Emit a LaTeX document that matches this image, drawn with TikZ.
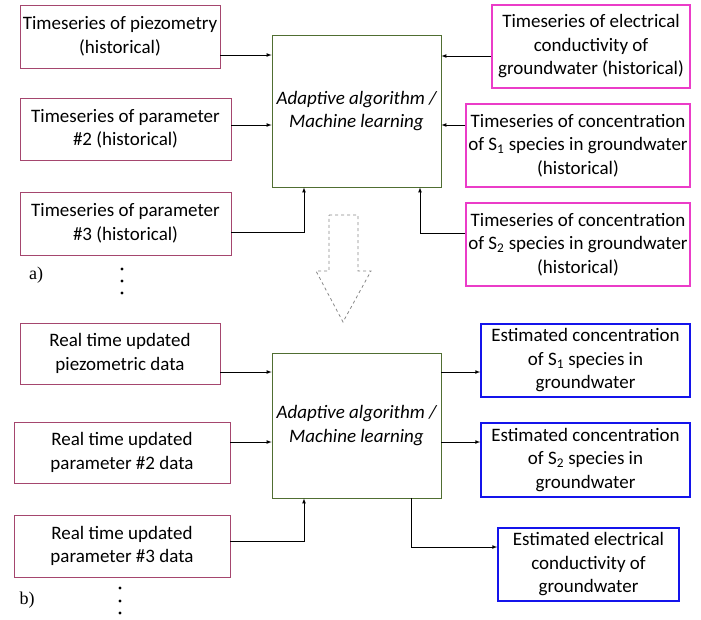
\documentclass[tikz,border=0pt]{standalone}
\usepackage{fontspec}
\setmainfont{Carlito}
\newfontfamily\labelfont{Liberation Serif}
\usetikzlibrary{calc}

\definecolor{inbox}{RGB}{165,70,110}
\definecolor{histbox}{RGB}{235,60,200}
\definecolor{outbox}{RGB}{20,20,235}
\definecolor{algbox}{RGB}{80,110,50}
\definecolor{dashgray}{RGB}{135,135,135}

\tikzset{
  box/.style={draw, inner sep=0pt, align=center, font=\fontsize{19}{23.5}\selectfont},
  param/.style={box, draw=inbox, line width=0.8pt},
  hist/.style={box, draw=histbox, line width=1.6pt},
  estim/.style={box, draw=outbox, line width=1.6pt},
  algo/.style={box, draw=algbox, line width=0.8pt, font=\fontsize{19}{23.5}\selectfont\itshape},
  link/.style={->, >=latex, line width=0.7pt}
}

\begin{document}
\begin{tikzpicture}[x=1pt, y=-1pt]
\useasboundingbox (0,0) rectangle (701,619);

% a) historical training
\node[name=p1, param, minimum width=200pt, minimum height=63pt] at (120,36.5) {Timeseries of piezometry\\(historical)};
\node[name=p2, param, minimum width=211pt, minimum height=62pt] at (125.5,129) {Timeseries of parameter\\\#2 (historical)};
\node[name=p3, param, minimum width=211pt, minimum height=63pt] at (125.5,223.5) {Timeseries of parameter\\\#3 (historical)};

\node[name=algA, algo, minimum width=169pt, minimum height=152pt] at (356.5,111) {Adaptive algorithm /\\Machine learning};

\node[name=h1, hist, minimum width=198pt, minimum height=83pt] at (591,46.5) {Timeseries of electrical\\conductivity of\\groundwater (historical)};
\node[name=h2, hist, minimum width=224pt, minimum height=83pt] at (578,145.5) {Timeseries of concentration\\of S\textsubscript{1} species in groundwater\\(historical)};
\node[name=h3, hist, minimum width=224pt, minimum height=83pt] at (578,244.5) {Timeseries of concentration\\of S\textsubscript{2} species in groundwater\\(historical)};

\node[name=la, font=\fontsize{18}{18}\labelfont] at (36,275) {a)};
\foreach \y in {269,281,293} \fill (122,\y) circle (1.6);

\draw[link] ([yshift=-18.5pt]p1.east) coordinate (t) -- (t -| algA.west);
\draw[link] ([yshift=4pt]p2.east) coordinate (t) -- (t -| algA.west);
\draw[link] ([yshift=-8.5pt]p3.east) -| ([xshift=-52.5pt]algA.south);
\draw[link] ([yshift=-9.5pt]h1.west) coordinate (t) -- (t -| algA.east);
\draw[link] ([yshift=20.5pt]h2.west) coordinate (t) -- (t -| algA.east);
\draw[link] ([yshift=11.5pt]h3.west) -| ([xshift=63.5pt]algA.south);

% transition arrow
\draw[dashgray, dashed, line width=0.8pt] (329,215) -- (358,215) -- (358,271) -- (371,271)
  -- (343,322) -- (316,271) -- (329,271) -- cycle;

% b) real time estimation
\node[name=q1, param, minimum width=200pt, minimum height=61pt] at (120,353.5) {Real time updated\\piezometric data};
\node[name=q2, param, minimum width=216pt, minimum height=61pt] at (122,452.5) {Real time updated\\parameter \#2 data};
\node[name=q3, param, minimum width=216pt, minimum height=62pt] at (122,546) {Real time updated\\parameter \#3 data};

\node[name=algB, algo, minimum width=169pt, minimum height=145pt] at (356.5,425.5) {Adaptive algorithm /\\Machine learning};

\node[name=e1, estim, minimum width=209pt, minimum height=73pt] at (585.5,360.5) {Estimated concentration\\of S\textsubscript{1} species in\\groundwater};
\node[name=e2, estim, minimum width=209pt, minimum height=74pt] at (585.5,460) {Estimated concentration\\of S\textsubscript{2} species in\\groundwater};
\node[name=e3, estim, minimum width=181pt, minimum height=73pt] at (588.5,564.5) {Estimated electrical\\conductivity of\\groundwater};

\node[name=lb, font=\fontsize{18}{18}\labelfont] at (27,600) {b)};
\foreach \y in {588,601,613} \fill (120,\y) circle (1.6);

\draw[link] ([yshift=-18.5pt]q1.east) coordinate (t) -- (t -| algB.west);
\draw[link] ([yshift=10.5pt]q2.east) coordinate (t) -- (t -| algB.west);
\draw[link] ([yshift=5pt]q3.east) -| ([xshift=-52.5pt]algB.south);
\draw[link] ([yshift=-11.5pt]e1.west) coordinate (t) (t -| algB.east) -- (t);
\draw[link] ([yshift=18pt]e2.west) coordinate (t) (t -| algB.east) -- (t);
\draw[link] ([xshift=54.5pt]algB.south) |- ([yshift=17.5pt]e3.west);
\end{tikzpicture}
\end{document}
